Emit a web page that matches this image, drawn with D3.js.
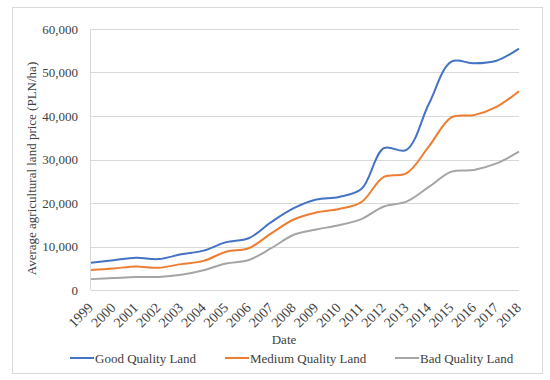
<!DOCTYPE html>
<html>
<head>
<meta charset="utf-8">
<script src="https://cdn.jsdelivr.net/npm/d3@7"></script>
<style>
  body { margin: 0; background: #fff; }
  text { font-family: "Liberation Serif", "DejaVu Serif", serif; fill: #404040; }
</style>
</head>
<body>
<div id="chart"></div>
<script>
// Chart data
var years = ["1999", "2000", "2001", "2002", "2003", "2004", "2005", "2006", "2007", "2008",
  "2009", "2010", "2011", "2012", "2013", "2014", "2015", "2016", "2017", "2018"];
var goodLand = [6250, 6850, 7400, 7100, 8200, 9050, 11000, 11900, 15600, 18800,
  20800, 21400, 23200, 32600, 32200, 42800, 52500, 52100, 52700, 55500];
var mediumLand = [4600, 4950, 5400, 5100, 5950, 6700, 8800, 9600, 13000, 16200,
  17800, 18600, 20200, 26000, 26800, 33000, 39700, 40200, 42100, 45700];
var badLand = [2500, 2750, 3000, 3000, 3500, 4550, 6100, 6900, 9600, 12700,
  13900, 14900, 16300, 19200, 20300, 23700, 27200, 27600, 29100, 31800];
var yTicks = [0, 10000, 20000, 30000, 40000, 50000, 60000];

var series = [
  { name: "Good Quality Land", values: goodLand, color: "#4472C4" },
  { name: "Medium Quality Land", values: mediumLand, color: "#ED7D31" },
  { name: "Bad Quality Land", values: badLand, color: "#A5A5A5" }
];

var svgWidth = 550;
var svgHeight = 380;
var margin = { top: 29, right: 31, bottom: 90, left: 91 };
var width = svgWidth - margin.left - margin.right;
var height = svgHeight - margin.top - margin.bottom;

var svg = d3.select("#chart")
  .append("svg")
  .attr("width", svgWidth)
  .attr("height", svgHeight);

// outer border
svg.append("rect")
  .attr("x", 12.5).attr("y", 7.5)
  .attr("width", 530).attr("height", 366)
  .attr("fill", "none")
  .attr("stroke", "#d9d9d9");

var chartGroup = svg.append("g")
  .attr("transform", `translate(${margin.left}, ${margin.top})`);

var x = d3.scalePoint().domain(years).range([0, width]);
var y = d3.scaleLinear().domain([0, 60000]).range([height, 0]);

// gridlines
chartGroup.append("g")
  .selectAll("line")
  .data(yTicks)
  .enter()
  .append("line")
  .attr("x1", 0).attr("x2", width)
  .attr("y1", d => Math.round(y(d)) + 0.5)
  .attr("y2", d => Math.round(y(d)) + 0.5)
  .attr("stroke", "#d9d9d9");

// left axis line
chartGroup.append("line")
  .attr("x1", -0.5).attr("x2", -0.5)
  .attr("y1", 0).attr("y2", height)
  .attr("stroke", "#d9d9d9");

// y axis labels
var leftAxis = d3.axisLeft(y).tickValues(yTicks).tickSize(0).tickPadding(13)
  .tickFormat(d3.format(","));
chartGroup.append("g").call(leftAxis)
  .call(g => g.select(".domain").remove())
  .selectAll("text")
  .attr("font-size", "13px")
  .style("font-family", "'Liberation Serif', serif")
  .attr("fill", "#404040");

// x axis labels, rotated
var bottomAxis = d3.axisBottom(x).tickSize(0);
var xg = chartGroup.append("g").attr("transform", `translate(0, ${height})`).call(bottomAxis);
xg.select(".domain").remove();
xg.selectAll("text")
  .attr("font-size", "14px")
  .style("font-family", "'Liberation Serif', serif")
  .attr("fill", "#404040")
  .attr("text-anchor", "end")
  .attr("x", 0)
  .attr("y", 0)
  .attr("dy", "0.35em")
  .attr("transform", "translate(-1, 15) rotate(-45)");

// axis titles
chartGroup.append("text")
  .attr("transform", "rotate(-90)")
  .attr("x", -height / 2 - 9)
  .attr("y", -margin.left + 36)
  .attr("text-anchor", "middle")
  .attr("font-size", "13px")
  .text("Average agricultural land price (PLN/ha)");

chartGroup.append("text")
  .attr("x", width / 2 - 21)
  .attr("y", height + 54)
  .attr("text-anchor", "middle")
  .attr("font-size", "13px")
  .text("Date");

// lines
var line = d3.line()
  .x((d, i) => x(years[i]))
  .y(d => y(d))
  .curve(d3.curveCatmullRom.alpha(0.5));

chartGroup.selectAll(".series")
  .data(series)
  .enter()
  .append("path")
  .attr("class", "series")
  .attr("d", d => line(d.values))
  .attr("fill", "none")
  .attr("stroke", d => d.color)
  .attr("stroke-width", 2);

// legend
var legendX = [70, 225, 395];
var legend = svg.append("g")
  .selectAll("g")
  .data(series)
  .enter()
  .append("g")
  .attr("transform", (d, i) => `translate(${legendX[i]}, 358)`);

legend.append("line")
  .attr("x1", 0).attr("x2", 24)
  .attr("y1", 0).attr("y2", 0)
  .attr("stroke", d => d.color)
  .attr("stroke-width", 2);

legend.append("text")
  .attr("x", 25)
  .attr("y", 0)
  .attr("dy", "0.35em")
  .attr("font-size", "13px")
  .text(d => d.name);
</script>
</body>
</html>
